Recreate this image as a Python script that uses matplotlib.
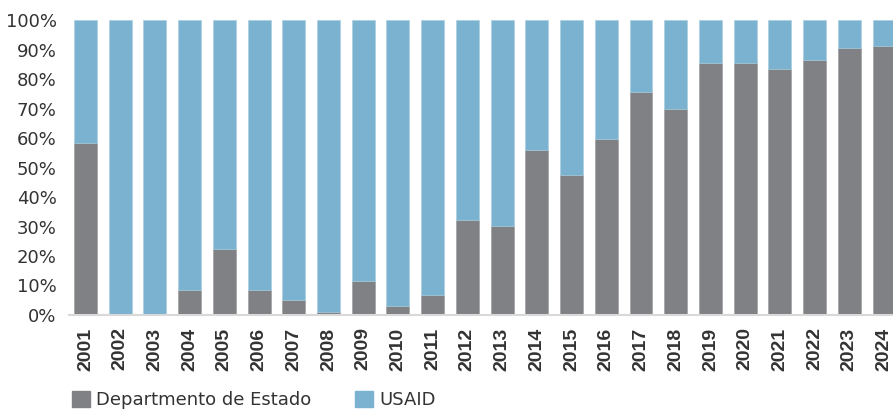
import matplotlib
matplotlib.use("Agg")
import matplotlib.pyplot as plt
from matplotlib.patches import Patch
from matplotlib.ticker import FuncFormatter
from matplotlib import font_manager as fm

years = [str(y) for y in range(2001, 2025)]
estado = [58.3, 0.0, 0.0, 8.6, 22.4, 8.6, 5.1, 0.9, 11.5, 3.0, 6.8,
          32.3, 30.3, 56.0, 47.6, 59.8, 75.6, 69.8, 85.5, 85.5, 83.5, 86.3, 90.6, 91.3]
usaid = [100 - v for v in estado]
labels = ["Departmento de Estado", "USAID"]

GRAY = "#808185"
BLUE = "#7ab2cf"
TXT = "#333333"

W, H = 893, 411
fig = plt.figure(figsize=(W / 100, H / 100), dpi=100)
left, right, bottom, top = 69, 893, 315, 20
ax = fig.add_axes([left / W, 1 - bottom / H, (right - left) / W, (bottom - top) / H])

x = list(range(len(years)))
est = [v / 100 for v in estado]
usa = [v / 100 for v in usaid]
ax.bar(x, est, width=0.66, color=GRAY, edgecolor="#9a9b9e", linewidth=0.4)
ax.bar(x, usa, bottom=est, width=0.66, color=BLUE, edgecolor="#a6cde0", linewidth=0.4)

ax.set_xlim(-0.475, 23.26)
ax.set_ylim(0, 1.0)
ax.set_yticks([i / 10 for i in range(11)])
ax.yaxis.set_major_formatter(FuncFormatter(lambda v, p: f"{int(round(v * 100))}%"))

names = {f.name for f in fm.fontManager.ttflist}
yearfont = "Liberation Sans Narrow" if "Liberation Sans Narrow" in names else "Liberation Sans"

ax.set_xticks(x)
ax.set_xticklabels(years, rotation=90, fontsize=17 if yearfont == "Liberation Sans Narrow" else 14,
                   fontweight="bold", family=yearfont, color=TXT)
for lab in ax.get_yticklabels():
    lab.set_fontsize(13)
    lab.set_color(TXT)
    lab.set_family("DejaVu Sans")
ax.tick_params(axis="both", length=0)
ax.tick_params(axis="y", pad=9)
ax.tick_params(axis="x", pad=9)

for s in ["top", "right", "left"]:
    ax.spines[s].set_visible(False)
ax.spines["bottom"].set_color("#d9d9d9")
ax.spines["bottom"].set_linewidth(1.5)

handles = [Patch(facecolor=GRAY, edgecolor=GRAY), Patch(facecolor=BLUE, edgecolor=BLUE)]
fig.legend(handles, labels, loc="lower left", bbox_to_anchor=(72 / W, 2 / H),
           ncol=2, frameon=False, handlelength=1.0, handleheight=1.0,
           handletextpad=0.35, columnspacing=2.4, borderpad=0, borderaxespad=0,
           labelcolor=TXT, prop={"family": "DejaVu Sans", "size": 13})

fig.savefig("out.png", dpi=100)
